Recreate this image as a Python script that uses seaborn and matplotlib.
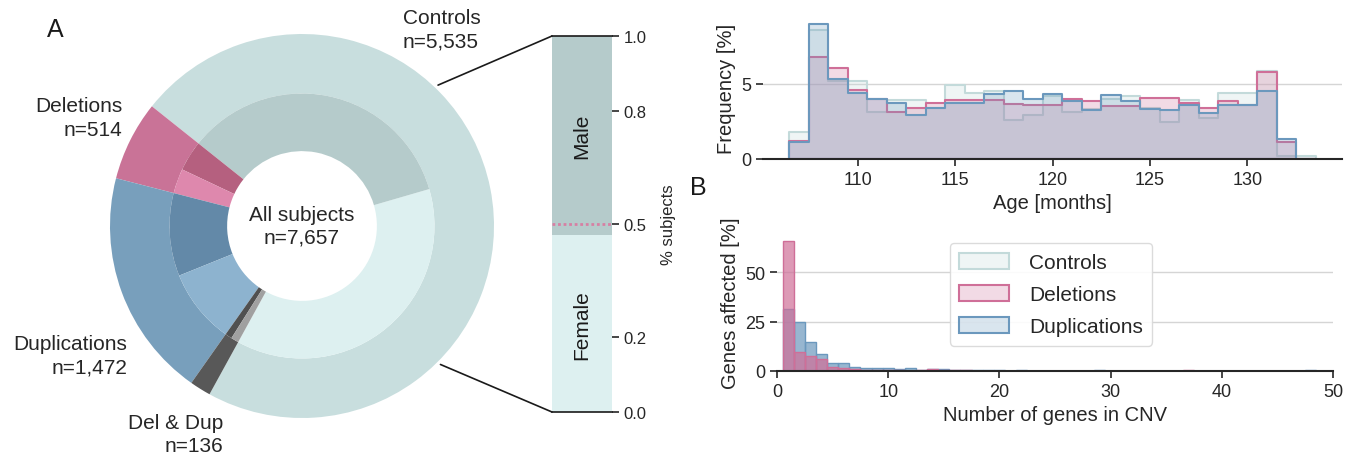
import numpy as np
import pandas as pd
import matplotlib
matplotlib.use("Agg")
import matplotlib.pyplot as plt
from matplotlib.patches import ConnectionPatch, Patch
from matplotlib.colors import to_rgba
import seaborn as sns

# ---- data ----
groups = ["Controls", "Deletions", "Duplications", "Del & Dup"]
group_counts = [5535, 514, 1472, 136]
# inner ring, two sub-groups per group, in drawing order
inner_counts = [2871, 2664, 283, 231, 774, 698, 64, 72]

sex_labels = ["Female", "Male"]
sex_fraction = [0.47, 0.53]

age_months = list(range(107, 134))
age_controls = [1.8, 8.6, 5.2, 5.2, 3.1, 3.9, 3.9, 3.4, 4.9, 4.4, 4.55, 2.6, 2.9, 4.2,
                3.1, 3.3, 4.0, 4.2, 3.4, 2.45, 3.9, 2.75, 4.4, 4.4, 5.85, 0.22, 0.18]
age_deletions = [1.2, 6.8, 6.05, 4.6, 4.0, 3.15, 3.4, 3.7, 3.9, 3.9, 3.9, 3.65, 3.6, 3.6,
                 4.0, 3.85, 3.55, 3.55, 4.05, 4.05, 3.75, 3.4, 3.85, 3.6, 5.8, 1.1, 0.0]
age_duplications = [1.1, 9.0, 5.3, 4.4, 4.0, 3.75, 2.9, 3.4, 3.75, 3.75, 4.35, 4.5, 4.0, 4.3,
                    3.85, 3.25, 4.25, 3.85, 3.35, 3.25, 3.6, 3.05, 3.6, 3.6, 4.5, 1.3, 0.0]

genes_n = list(range(1, 49))
genes_dup = [31.5, 24.8, 14.8, 8.4, 4.2, 4.2, 2.2, 1.7, 1.3, 1.6,
             1.0, 1.6, 0.5, 0.8, 0.8, 0.6, 0.5, 0.3, 0.3, 0.3,
             0.2, 0.4, 0.2, 0.2, 0.2, 0.2, 0.2, 0.2, 0.3, 0.2,
             0.2, 0.2, 0.2, 0.2, 0.2, 0.2, 0.2, 0.1, 0.1, 0.1,
             0.1, 0.1, 0.1, 0.1, 0.1, 0.1, 0.1, 0.4]
genes_del = [65.9, 9.7, 7.6, 5.9, 2.2, 1.3, 1.2, 0.5, 0.3, 0.4,
             0.3, 0.2, 0.3, 0.9, 0.5, 0.3, 0.3, 0.2, 0.2, 0.1,
             0.1, 0.1, 0.1, 0.1, 0.1, 0.1, 0.1, 0.1, 0.1, 0.1,
             0.1, 0.1, 0.2, 0.1, 0.1, 0.1, 0.3, 0.1, 0.1, 0.1,
             0.1, 0.1, 0.1, 0.1, 0.1, 0.1, 0.1, 0.1]

# ---- style ----
sns.set_theme(style="ticks")
plt.rcParams["font.family"] = ["Liberation Sans", "DejaVu Sans"]
ink = "#262626"

outer_colors = ["#c8dede", "#c97397", "#789fbc", "#585858"]
inner_colors = ["#ddf0f0", "#b5cbcb", "#b5607f", "#de88ad",
                "#6389a8", "#8db3cf", "#505050", "#a0a0a0"]
c_ctrl, c_del, c_dup = "#c3dada", "#cf6f98", "#6b98bd"

W, H = 1352, 460
fig = plt.figure(figsize=(W / 100, H / 100), dpi=100)

def rect(x0, y0, x1, y1):
    return [x0 / W, (H - y1) / H, (x1 - x0) / W, (y1 - y0) / H]

# ---- nested pie ----
ax_pie = fig.add_axes(rect(110, 35, 494, 419))
start = 241.2
ax_pie.pie(group_counts, radius=1.0, startangle=start, colors=outer_colors,
           wedgeprops=dict(width=0.31, linewidth=0))
ax_pie.pie(inner_counts, radius=0.69, startangle=start, colors=inner_colors,
           wedgeprops=dict(width=0.30, linewidth=0))
ax_pie.set_xlim(-1, 1)
ax_pie.set_ylim(-1, 1)
ax_pie.set_aspect("equal")

fs = 15
ax_pie.text(0, 0, f"All subjects\nn={sum(group_counts):,}", ha="center", va="center",
            fontsize=fs, color=ink, linespacing=1.25)
label_pos = {"Controls": (0.526, 1.023, "left"), "Deletions": (-0.937, 0.565, "right"),
             "Duplications": (-0.911, -0.672, "right"), "Del & Dup": (-0.411, -1.083, "right")}
for g, n in zip(groups, group_counts):
    x, y, ha = label_pos[g]
    ax_pie.text(x, y, f"{g}\nn={n:,}", ha=ha, va="center", fontsize=fs, color=ink,
                linespacing=1.3, clip_on=False)

# ---- sex bar ----
ax_bar = fig.add_axes(rect(552, 37, 612, 413))
sns.barplot(x=["Controls"], y=[sum(sex_fraction)], color="#b5cbcb", saturation=1,
            width=1.0, linewidth=0, ax=ax_bar)
sns.barplot(x=["Controls"], y=[sex_fraction[0]], color="#ddf0f0", saturation=1,
            width=1.0, linewidth=0, ax=ax_bar)
ax_bar.axhline(0.5, color="#d77fa3", ls=(0, (1, 1)), lw=2)
ax_bar.set_xlim(-0.5, 0.5)
ax_bar.set_ylim(0, 1)
ax_bar.set_xticks([])
ax_bar.set_xlabel("")
ax_bar.set_yticks([0, 0.2, 0.5, 0.8, 1.0])
ax_bar.yaxis.tick_right()
ax_bar.yaxis.set_label_position("right")
ax_bar.set_ylabel("% subjects", fontsize=12, color=ink, labelpad=10)
ax_bar.tick_params(axis="y", labelsize=12, length=5, width=1.2, colors=ink)
for s in ["left", "right"]:
    ax_bar.spines[s].set_visible(False)
for s in ["top", "bottom"]:
    ax_bar.spines[s].set_color("k")
    ax_bar.spines[s].set_linewidth(1.2)
mid_f = sex_fraction[0] / 2
mid_m = sex_fraction[0] + sex_fraction[1] / 2
ax_bar.text(0, mid_m, sex_labels[1], rotation=90, ha="center", va="center", fontsize=fs, color="k")
ax_bar.text(0, mid_f, sex_labels[0], rotation=90, ha="center", va="center", fontsize=fs, color="k")

for ang, yb in [(46, 1.0), (-45, 0.0)]:
    a = np.radians(ang)
    con = ConnectionPatch(xyA=(1.02 * np.cos(a), 1.02 * np.sin(a)), coordsA=ax_pie.transData,
                          xyB=(0, yb), coordsB=ax_bar.transAxes, color="k", lw=1.2)
    fig.add_artist(con)

# ---- age histogram ----
age_df = pd.DataFrame({"month": age_months, "Controls": age_controls,
                       "Deletions": age_deletions, "Duplications": age_duplications})
ax_age = fig.add_axes(rect(763, 18, 1342, 160))
age_edges = [m - 0.5 for m in age_months] + [age_months[-1] + 0.5]
for col, c in [("Controls", c_ctrl), ("Deletions", c_del), ("Duplications", c_dup)]:
    sns.histplot(data=age_df, x="month", weights=col, bins=age_edges, element="step",
                 fill=True, alpha=0.25, color=c, linewidth=1.5, ax=ax_age)
ax_age.set_xticks([110, 115, 120, 125, 130])
ax_age.set_yticks([0, 5])
ax_age.set_xlabel("Age [months]", fontsize=14.5, color=ink)
ax_age.set_ylabel("Frequency [%]", fontsize=14.5, color=ink)
ax_age.yaxis.grid(True, color="#d5d5d5", lw=1)
ax_age.set_axisbelow(True)

# ---- genes histogram ----
gen_df = pd.DataFrame({"genes": genes_n, "Duplications": genes_dup, "Deletions": genes_del})
ax_gen = fig.add_axes(rect(777, 235, 1333, 372))
gene_edges = [n - 0.5 for n in genes_n] + [genes_n[-1] + 0.5]
for col, c in [("Duplications", c_dup), ("Deletions", c_del)]:
    sns.histplot(data=gen_df, x="genes", weights=col, bins=gene_edges, element="bars",
                 alpha=0.7, color=c, edgecolor=c, linewidth=1, ax=ax_gen)
ax_gen.set_xlim(0, 50)
ax_gen.set_xticks(range(0, 51, 10))
ax_gen.set_yticks([0, 25, 50])
ax_gen.set_xlabel("Number of genes in CNV", fontsize=14.5, color=ink)
ax_gen.set_ylabel("Genes affected [%]", fontsize=14.5, color=ink)
ax_gen.yaxis.grid(True, color="#d5d5d5", lw=1)
ax_gen.set_axisbelow(True)

handles = [Patch(facecolor=to_rgba(c, 0.25), edgecolor=c, lw=1.5, label=g)
           for g, c in zip(groups[:3], [c_ctrl, c_del, c_dup])]
ax_gen.legend(handles=handles, loc="upper left", bbox_to_anchor=(0.311, 0.932), fontsize=15,
              handlelength=2.4, handleheight=0.85, handletextpad=0.95, labelspacing=0.6,
              borderpad=0.45, borderaxespad=0, frameon=True, fancybox=True, framealpha=0.9,
              edgecolor="#d8d8d8", labelcolor=ink)

for ax in [ax_age, ax_gen]:
    for s in ["top", "right", "left"]:
        ax.spines[s].set_visible(False)
    ax.spines["bottom"].set_color(ink)
    ax.spines["bottom"].set_linewidth(1.5)
    ax.tick_params(labelsize=13, length=5, width=1.2, colors=ink)

fig.text(55 / W, 1 - 30 / H, "A", fontsize=18, ha="center", va="center", color="k")
fig.text(698 / W, 1 - 188 / H, "B", fontsize=18, ha="center", va="center", color="k")

fig.savefig("out.png", dpi=100)
